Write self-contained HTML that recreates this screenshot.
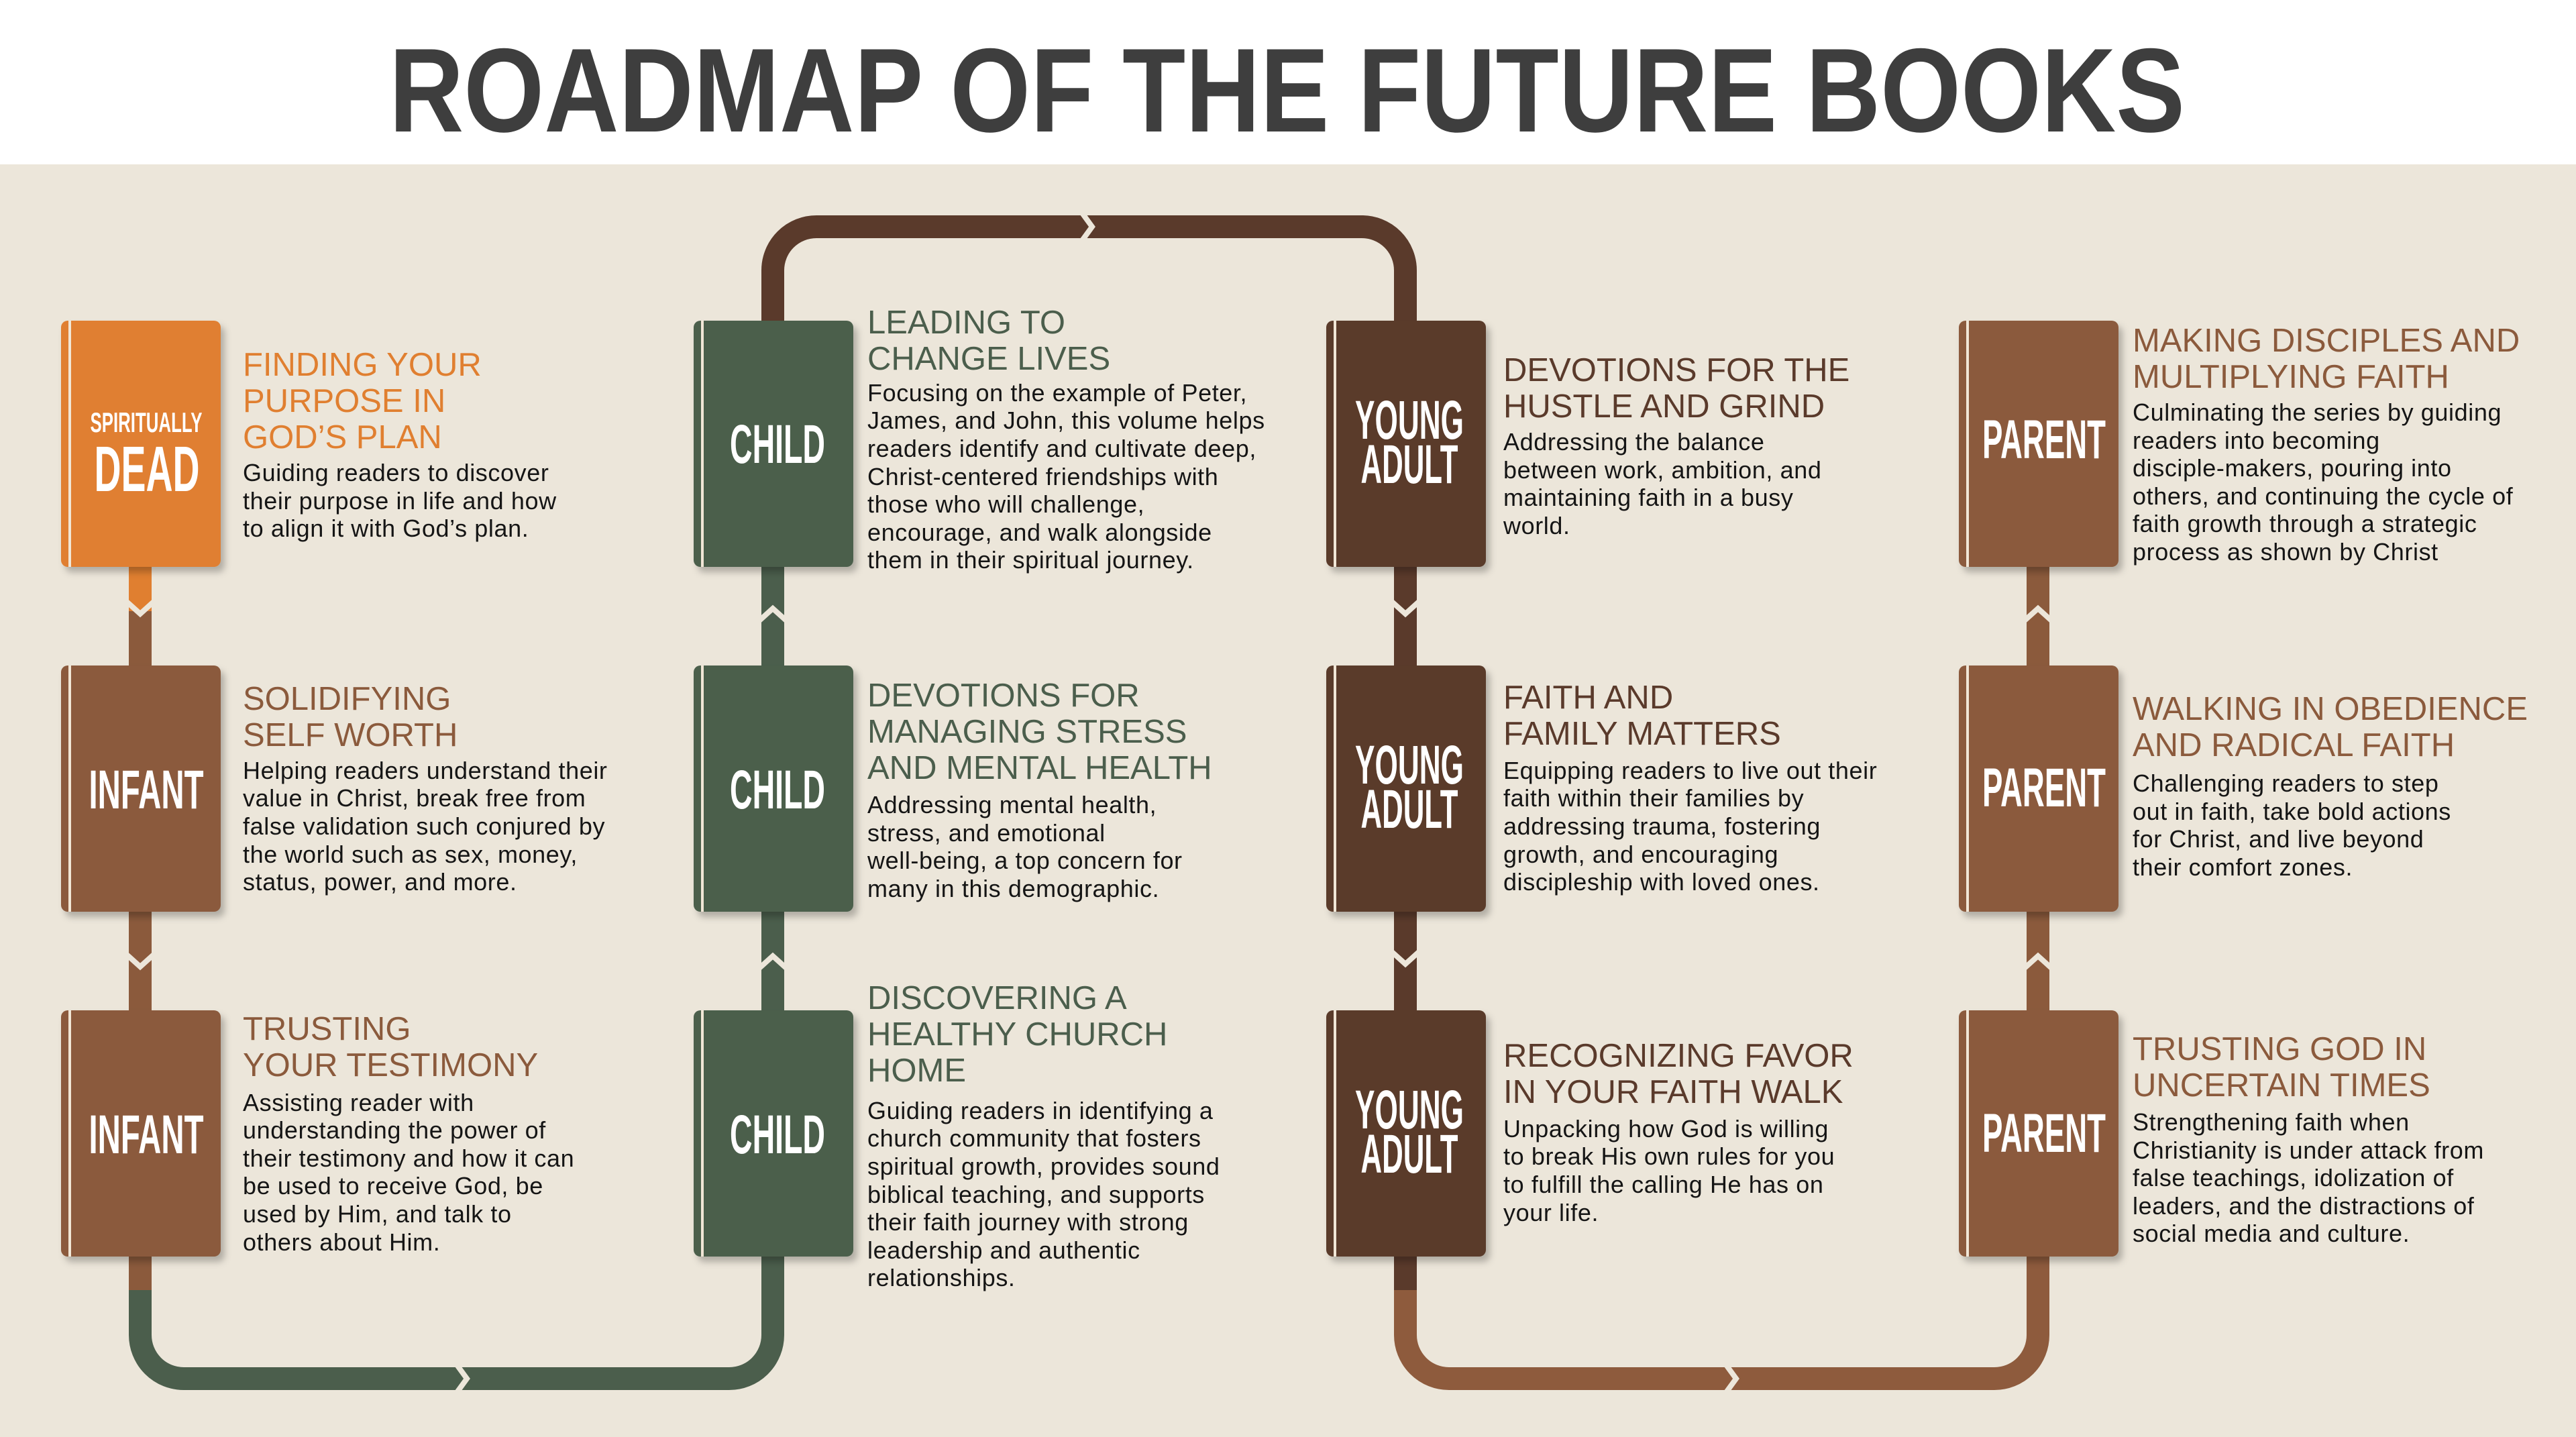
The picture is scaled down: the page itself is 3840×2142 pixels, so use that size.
<!DOCTYPE html>
<html><head><meta charset="utf-8"><style>
html,body{margin:0;padding:0;background:#ECE6DA}
svg{display:block}
.h{font-family:"Liberation Sans",sans-serif;font-size:49px}
.b{font-family:"Liberation Sans",sans-serif;font-size:36px;letter-spacing:0.6px;fill:#151515}
.l{font-family:"Liberation Sans Narrow","Liberation Sans",sans-serif;font-weight:bold;fill:#fff}
</style></head><body>
<svg width="3840" height="2142" viewBox="0 0 3840 2142" xmlns="http://www.w3.org/2000/svg">
<defs>
<filter id="sh" x="-10%" y="-10%" width="130%" height="130%"><feDropShadow dx="6" dy="8" stdDeviation="5" flood-color="#000" flood-opacity="0.25"/></filter>
</defs>
<rect width="3840" height="2142" fill="#ECE6DA"/>
<rect width="3840" height="245" fill="#fff"/>
<text x="580" y="196" font-family="Liberation Sans,sans-serif" font-weight="bold" font-size="178" fill="#3E3E3E" textLength="2677" lengthAdjust="spacingAndGlyphs">ROADMAP OF THE FUTURE BOOKS</text>

<!-- connectors -->
<g fill="none" stroke-width="34">
<path d="M209 1923 V1990 A65 65 0 0 0 274 2055 H1087 A65 65 0 0 0 1152 1990 V1873" stroke="#4B5E4C"/>
<path d="M209 1873 V1923" stroke="#8B5A3C"/>
<path d="M1152 478 V403 A65 65 0 0 1 1217 338 H2030 A65 65 0 0 1 2095 403 V478" stroke="#5A3A2B"/>
<path d="M2095 1923 V1990 A65 65 0 0 0 2160 2055 H2973 A65 65 0 0 0 3038 1990 V1873" stroke="#8E5B3D"/>
<path d="M2095 1873 V1923" stroke="#5A3A2B"/>
<path d="M209 845 V911" stroke="#E07F30"/>
<path d="M209 911 V992 M209 1359 V1506" stroke="#8B5A3C"/>
<path d="M1152 845 V992 M1152 1359 V1506" stroke="#4B5E4C"/>
<path d="M2095 845 V992 M2095 1359 V1506" stroke="#5A3A2B"/>
<path d="M3038 845 V992 M3038 1359 V1506" stroke="#8B5A3C"/>
</g>
<g fill="none" stroke="#ECE6DA" stroke-width="8">
<polyline points="189,897 209,915 229,897"/>
<polyline points="189,1423 209,1441 229,1423"/>
<polyline points="1132,925 1152,907 1172,925"/>
<polyline points="1132,1443 1152,1425 1172,1443"/>
<polyline points="2075,897 2095,915 2115,897"/>
<polyline points="2075,1419 2095,1437 2115,1419"/>
<polyline points="3018,925 3038,907 3058,925"/>
<polyline points="3018,1443 3038,1425 3058,1443"/>
<polyline points="680,2033 696,2055 680,2077"/>
<polyline points="1612,316 1628,338 1612,360"/>
<polyline points="2572,2033 2588,2055 2572,2077"/>
</g>

<!-- books -->
<g filter="url(#sh)">
<rect x="91" y="478" width="238" height="367" rx="10" fill="#E07F30"/>
<rect x="91" y="992" width="238" height="367" rx="10" fill="#8B5A3C"/>
<rect x="91" y="1506" width="238" height="367" rx="10" fill="#8B5A3C"/>
<rect x="1034" y="478" width="238" height="367" rx="10" fill="#4B5E4C"/>
<rect x="1034" y="992" width="238" height="367" rx="10" fill="#4B5E4C"/>
<rect x="1034" y="1506" width="238" height="367" rx="10" fill="#4B5E4C"/>
<rect x="1977" y="478" width="238" height="367" rx="10" fill="#5A3A2B"/>
<rect x="1977" y="992" width="238" height="367" rx="10" fill="#5A3A2B"/>
<rect x="1977" y="1506" width="238" height="367" rx="10" fill="#5A3A2B"/>
<rect x="2920" y="478" width="238" height="367" rx="10" fill="#8B5A3C"/>
<rect x="2920" y="992" width="238" height="367" rx="10" fill="#8B5A3C"/>
<rect x="2920" y="1506" width="238" height="367" rx="10" fill="#8B5A3C"/>
</g>
<g fill="#F1E6D6">
<rect x="102" y="478" width="4" height="367"/><rect x="102" y="992" width="4" height="367"/><rect x="102" y="1506" width="4" height="367"/>
<rect x="1045" y="478" width="4" height="367"/><rect x="1045" y="992" width="4" height="367"/><rect x="1045" y="1506" width="4" height="367"/>
<rect x="1988" y="478" width="4" height="367"/><rect x="1988" y="992" width="4" height="367"/><rect x="1988" y="1506" width="4" height="367"/>
<rect x="2931" y="478" width="4" height="367"/><rect x="2931" y="992" width="4" height="367"/><rect x="2931" y="1506" width="4" height="367"/>
</g>

<!-- labels -->
<g class="l" text-anchor="middle">
<text x="218" y="644" font-size="42" textLength="167" lengthAdjust="spacingAndGlyphs">SPIRITUALLY</text>
<text x="219" y="732" font-size="96" textLength="157" lengthAdjust="spacingAndGlyphs">DEAD</text>
<text x="218" y="1205" font-size="82" textLength="171" lengthAdjust="spacingAndGlyphs">INFANT</text>
<text x="218" y="1719" font-size="82" textLength="171" lengthAdjust="spacingAndGlyphs">INFANT</text>
<text x="1159" y="690" font-size="82" textLength="142" lengthAdjust="spacingAndGlyphs">CHILD</text>
<text x="1159" y="1205" font-size="82" textLength="142" lengthAdjust="spacingAndGlyphs">CHILD</text>
<text x="1159" y="1719" font-size="82" textLength="142" lengthAdjust="spacingAndGlyphs">CHILD</text>
<text x="2101" y="654" font-size="82" textLength="162" lengthAdjust="spacingAndGlyphs">YOUNG</text>
<text x="2101" y="720" font-size="82" textLength="145" lengthAdjust="spacingAndGlyphs">ADULT</text>
<text x="2101" y="1168" font-size="82" textLength="162" lengthAdjust="spacingAndGlyphs">YOUNG</text>
<text x="2101" y="1234" font-size="82" textLength="145" lengthAdjust="spacingAndGlyphs">ADULT</text>
<text x="2101" y="1682" font-size="82" textLength="162" lengthAdjust="spacingAndGlyphs">YOUNG</text>
<text x="2101" y="1748" font-size="82" textLength="145" lengthAdjust="spacingAndGlyphs">ADULT</text>
<text x="3047" y="683" font-size="82" textLength="184" lengthAdjust="spacingAndGlyphs">PARENT</text>
<text x="3047" y="1202" font-size="82" textLength="184" lengthAdjust="spacingAndGlyphs">PARENT</text>
<text x="3047" y="1717" font-size="82" textLength="184" lengthAdjust="spacingAndGlyphs">PARENT</text>
</g>

<!-- column 1 -->
<g class="h" fill="#E07F30">
<text x="362" y="560">FINDING YOUR</text><text x="362" y="614">PURPOSE IN</text><text x="362" y="668">GOD’S PLAN</text>
</g>
<g class="b">
<text x="362" y="717">Guiding readers to discover</text><text x="362" y="759">their purpose in life and how</text><text x="362" y="800">to align it with God’s plan.</text>
</g>
<g class="h" fill="#8B5A3C">
<text x="362" y="1058">SOLIDIFYING</text><text x="362" y="1112">SELF WORTH</text>
<text x="362" y="1550">TRUSTING</text><text x="362" y="1604">YOUR TESTIMONY</text>
</g>
<g class="b">
<text x="362" y="1161">Helping readers understand their</text><text x="362" y="1202">value in Christ, break free from</text><text x="362" y="1244">false validation such conjured by</text><text x="362" y="1286">the world such as sex, money,</text><text x="362" y="1327">status, power, and more.</text>
<text x="362" y="1656">Assisting reader with</text><text x="362" y="1697">understanding the power of</text><text x="362" y="1739">their testimony and how it can</text><text x="362" y="1780">be used to receive God, be</text><text x="362" y="1822">used by Him, and talk to</text><text x="362" y="1864">others about Him.</text>
</g>

<!-- column 2 -->
<g class="h" fill="#4B5E4C">
<text x="1293" y="497">LEADING TO</text><text x="1293" y="551">CHANGE LIVES</text>
<text x="1293" y="1053">DEVOTIONS FOR</text><text x="1293" y="1107">MANAGING STRESS</text><text x="1293" y="1161">AND MENTAL HEALTH</text>
<text x="1293" y="1504">DISCOVERING A</text><text x="1293" y="1558">HEALTHY CHURCH</text><text x="1293" y="1612">HOME</text>
</g>
<g class="b">
<text x="1293" y="598">Focusing on the example of Peter,</text><text x="1293" y="639">James, and John, this volume helps</text><text x="1293" y="681">readers identify and cultivate deep,</text><text x="1293" y="723">Christ-centered friendships with</text><text x="1293" y="764">those who will challenge,</text><text x="1293" y="806">encourage, and walk alongside</text><text x="1293" y="847">them in their spiritual journey.</text>
<text x="1293" y="1212">Addressing mental health,</text><text x="1293" y="1254">stress, and emotional</text><text x="1293" y="1295">well-being, a top concern for</text><text x="1293" y="1337">many in this demographic.</text>
<text x="1293" y="1668">Guiding readers in identifying a</text><text x="1293" y="1709">church community that fosters</text><text x="1293" y="1751">spiritual growth, provides sound</text><text x="1293" y="1793">biblical teaching, and supports</text><text x="1293" y="1834">their faith journey with strong</text><text x="1293" y="1876">leadership and authentic</text><text x="1293" y="1917">relationships.</text>
</g>

<!-- column 3 -->
<g class="h" fill="#5A3A2B">
<text x="2241" y="568">DEVOTIONS FOR THE</text><text x="2241" y="622">HUSTLE AND GRIND</text>
<text x="2241" y="1056">FAITH AND</text><text x="2241" y="1110">FAMILY MATTERS</text>
<text x="2241" y="1590">RECOGNIZING FAVOR</text><text x="2241" y="1644">IN YOUR FAITH WALK</text>
</g>
<g class="b">
<text x="2241" y="671">Addressing the balance</text><text x="2241" y="713">between work, ambition, and</text><text x="2241" y="754">maintaining faith in a busy</text><text x="2241" y="796">world.</text>
<text x="2241" y="1161">Equipping readers to live out their</text><text x="2241" y="1202">faith within their families by</text><text x="2241" y="1244">addressing trauma, fostering</text><text x="2241" y="1286">growth, and encouraging</text><text x="2241" y="1327">discipleship with loved ones.</text>
<text x="2241" y="1695">Unpacking how God is willing</text><text x="2241" y="1736">to break His own rules for you</text><text x="2241" y="1778">to fulfill the calling He has on</text><text x="2241" y="1820">your life.</text>
</g>

<!-- column 4 -->
<g class="h" fill="#8B5A3C">
<text x="3179" y="524">MAKING DISCIPLES AND</text><text x="3179" y="578">MULTIPLYING FAITH</text>
<text x="3179" y="1073">WALKING IN OBEDIENCE</text><text x="3179" y="1127">AND RADICAL FAITH</text>
<text x="3179" y="1580">TRUSTING GOD IN</text><text x="3179" y="1634">UNCERTAIN TIMES</text>
</g>
<g class="b">
<text x="3179" y="627">Culminating the series by guiding</text><text x="3179" y="669">readers into becoming</text><text x="3179" y="710">disciple-makers, pouring into</text><text x="3179" y="752">others, and continuing the cycle of</text><text x="3179" y="793">faith growth through a strategic</text><text x="3179" y="835">process as shown by Christ</text>
<text x="3179" y="1180">Challenging readers to step</text><text x="3179" y="1222">out in faith, take bold actions</text><text x="3179" y="1263">for Christ, and live beyond</text><text x="3179" y="1305">their comfort zones.</text>
<text x="3179" y="1685">Strengthening faith when</text><text x="3179" y="1727">Christianity is under attack from</text><text x="3179" y="1768">false teachings, idolization of</text><text x="3179" y="1810">leaders, and the distractions of</text><text x="3179" y="1851">social media and culture.</text>
</g>
</svg>
</body></html>
